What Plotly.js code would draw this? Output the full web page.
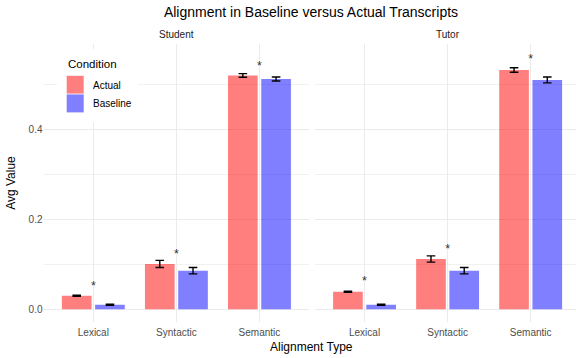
<!DOCTYPE html>
<html>
<head>
<meta charset="utf-8">
<script src="https://cdn.plot.ly/plotly-3.0.1.min.js"></script>
<style>html,body{margin:0;padding:0;background:#fff}#chart{width:576px;height:358px}</style>
</head>
<body>
<div id="chart"></div>
<script>
// ---- data ----
const categories = ['Lexical', 'Syntactic', 'Semantic'];
const panels = ['Student', 'Tutor'];
const conditions = ['Actual', 'Baseline'];

const studentActual = [0.030, 0.101, 0.521];
const studentActualSE = [0.0012, 0.008, 0.004];
const studentBaseline = [0.010, 0.086, 0.513];
const studentBaselineSE = [0.0012, 0.007, 0.0045];

const tutorActual = [0.039, 0.112, 0.533];
const tutorActualSE = [0.0012, 0.007, 0.005];
const tutorBaseline = [0.010, 0.086, 0.511];
const tutorBaselineSE = [0.0012, 0.007, 0.0065];

const studentStarY = [0.050, 0.122, 0.541];
const tutorStarY = [0.060, 0.133, 0.555];
const starLabels = ['*', '*', '*'];

// ---- styling ----
const W = 576, H = 358;
const px = x => x / W;
const py = y => 1 - y / H;
const colActual = 'rgba(255,0,0,0.5)';
const colBaseline = 'rgba(0,0,255,0.5)';
const font = 'Liberation Sans, Arial, sans-serif';

function barTrace(name, y, se, color, xa, ya) {
  return {
    type: 'bar', name: name, x: categories, y: y,
    xaxis: xa, yaxis: ya, showlegend: false,
    marker: {color: color, line: {width: 0}},
    error_y: {type: 'data', array: se, visible: true, color: '#000', thickness: 1.4, width: 4.3}
  };
}
function starTrace(y, xa, ya) {
  return {
    type: 'scatter', mode: 'text', x: categories, y: y, text: starLabels,
    xaxis: xa, yaxis: ya, showlegend: false, hoverinfo: 'skip',
    textposition: 'middle center',
    textfont: {family: font, size: 12.5, color: '#333333'}
  };
}

const data = [
  barTrace('Actual', studentActual, studentActualSE, colActual, 'x', 'y'),
  barTrace('Baseline', studentBaseline, studentBaselineSE, colBaseline, 'x', 'y'),
  starTrace(studentStarY, 'x', 'y'),
  barTrace('Actual', tutorActual, tutorActualSE, colActual, 'x2', 'y2'),
  barTrace('Baseline', tutorBaseline, tutorBaselineSE, colBaseline, 'x2', 'y2'),
  starTrace(tutorStarY, 'x2', 'y2')
];

const unit = (309.3 - 43.5) / 3.2;
const p1 = [43.5, 309.3];
const p2 = [314.7, 576];
const yTop = 44, yBot = 322;

const xCommon = {
  type: 'category', showline: false, zeroline: false, ticks: '',
  showgrid: true, gridcolor: '#EBEBEB', gridwidth: 1.1,
  tickfont: {family: font, size: 10, color: '#4D4D4D'},
  ticklabelstandoff: 3,
  fixedrange: true
};
const yCommon = {
  range: [-0.0283, 0.591], dtick: 0.2, tick0: 0, tickformat: '.1f',
  showline: false, zeroline: false, ticks: '',
  showgrid: true, gridcolor: '#EBEBEB', gridwidth: 1.1,
  minor: {dtick: 0.1, tick0: 0, showgrid: true, gridcolor: '#EFEFEF', gridwidth: 0.9},
  tickfont: {family: font, size: 10, color: '#4D4D4D'},
  domain: [py(yBot), py(yTop)], fixedrange: true
};

const layout = {
  width: W, height: H,
  margin: {l: 0, r: 0, t: 0, b: 0},
  paper_bgcolor: '#fff', plot_bgcolor: 'rgba(0,0,0,0)',
  barmode: 'group', bargap: 0.2, bargroupgap: 0.107,
  showlegend: false,
  font: {family: font},
  title: {text: 'Alignment in Baseline versus Actual Transcripts', font: {family: font, size: 14, color: '#000'},
          x: px(311), xanchor: 'center', y: py(12), yanchor: 'middle', xref: 'paper', yref: 'paper'},
  xaxis: Object.assign({}, xCommon, {domain: [px(p1[0]), px(p1[1])], range: [-0.6, 2.6], anchor: 'y'}),
  xaxis2: Object.assign({}, xCommon, {domain: [px(p2[0]), px(p2[1])], range: [-0.6, -0.6 + (p2[1] - p2[0]) / unit], anchor: 'y2'}),
  yaxis: Object.assign({}, yCommon, {anchor: 'x',
    title: {text: 'Avg Value', font: {family: font, size: 12, color: '#000'}, standoff: 10}}),
  yaxis2: Object.assign({}, yCommon, {anchor: 'x2', matches: 'y', showticklabels: false}),
  annotations: [
    {text: panels[0], x: px((p1[0] + p1[1]) / 2), y: py(34.7), xref: 'paper', yref: 'paper', showarrow: false,
     xanchor: 'center', yanchor: 'middle', font: {family: font, size: 10, color: '#1A1A1A'}},
    {text: panels[1], x: px((p2[0] + 580.5) / 2), y: py(34.7), xref: 'paper', yref: 'paper', showarrow: false,
     xanchor: 'center', yanchor: 'middle', font: {family: font, size: 10, color: '#1A1A1A'}},
    {text: 'Alignment Type', x: px(311.7), y: py(347), xref: 'paper', yref: 'paper', showarrow: false,
     xanchor: 'center', yanchor: 'middle', font: {family: font, size: 12, color: '#000'}},
    {text: 'Condition', x: px(65.5), y: py(64), xref: 'paper', yref: 'paper', showarrow: false,
     xanchor: 'left', yanchor: 'middle', font: {family: font, size: 11.5, color: '#000'}},
    {text: conditions[0], x: px(90.5), y: py(85.5), xref: 'paper', yref: 'paper', showarrow: false,
     xanchor: 'left', yanchor: 'middle', font: {family: font, size: 10, color: '#000'}},
    {text: conditions[1], x: px(90.5), y: py(103.8), xref: 'paper', yref: 'paper', showarrow: false,
     xanchor: 'left', yanchor: 'middle', font: {family: font, size: 10, color: '#000'}}
  ],
  shapes: [
    {type: 'rect', xref: 'paper', yref: 'paper', x0: px(57), x1: px(137.7), y0: py(121.7), y1: py(49),
     fillcolor: '#fff', line: {width: 0}, layer: 'above'},
    {type: 'rect', xref: 'paper', yref: 'paper', x0: px(66.7), x1: px(83.7), y0: py(93.6), y1: py(75.8),
     fillcolor: colActual, line: {width: 0}, layer: 'above'},
    {type: 'rect', xref: 'paper', yref: 'paper', x0: px(66.7), x1: px(83.7), y0: py(112.4), y1: py(94.4),
     fillcolor: colBaseline, line: {width: 0}, layer: 'above'}
  ]
};

Plotly.newPlot('chart', data, layout, {staticPlot: true, displayModeBar: false});
</script>
</body>
</html>
